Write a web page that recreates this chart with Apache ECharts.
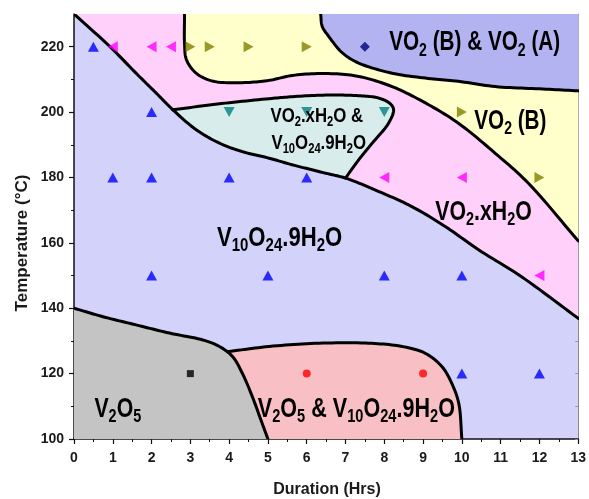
<!DOCTYPE html>
<html>
<head>
<meta charset="utf-8">
<script src="https://cdn.jsdelivr.net/npm/echarts@6.0.0/dist/echarts.min.js"></script>
<style>
html,body{margin:0;padding:0;background:#fff;}
#chart{width:589px;height:499px;}
</style>
</head>
<body>
<div id="chart"></div>
<script>
// ---------- tick labels ----------
const xTickValues = [0,1,2,3,4,5,6,7,8,9,10,11,12,13];
const yTickValues = [100,120,140,160,180,200,220];
const yMinorValues = [110,130,150,170,190,210];

// ---------- phase boundaries (Duration in h, Temperature in °C) ----------
const boundaryV10 = [[0,230],[0.92,220.1],[1.6,211.9],[2.12,205.8],[2.55,200.7],[3.15,194.6],[3.75,190.5],[4.34,187.9],[5.03,185.9],[5.62,183.9],[6.49,181.3],[7.0,179.8],[7.86,175.7],[8.71,171.1],[9.57,165.0],[10.43,157.9],[11.53,149.7],[13,136.9]];
const boundaryMix = [[2.55,200.7],[3.8,202.6],[5.03,204.1],[5.63,204.7],[6.49,205.2],[7.34,205.0],[7.85,204.3],[8.15,202.6],[8.24,200.7],[8.11,196.6],[7.69,190.5],[7.34,185.4],[7.0,179.8]];
const boundaryVO2B = [[2.85,230],[2.85,221],[2.9,216],[3.15,211.9],[3.57,209.5],[4.34,209.0],[5.03,209.7],[5.63,211.2],[6.49,211.8],[7.34,210.9],[8.2,207.8],[9.06,202.8],[9.91,196.6],[10.86,187.4],[11.71,178.3],[13,160.6]];
const boundaryVO2A = [[6.36,230],[6.4,226.2],[6.57,223.1],[6.92,218.1],[7.34,215.0],[8.2,211.9],[9.06,210.4],[9.91,209.4],[10.86,207.8],[12,207.1],[13,206.5]];
const boundaryV2O5 = [[0,140],[0.75,137.4],[1.6,134.9],[2.46,132.4],[3.32,130.3],[3.75,128.3],[4.09,125.2],[4.34,120.1],[4.6,112.9],[4.82,105.8],[5.0,100]];
const boundaryV2O5Mix = [[3.96,126.7],[5.03,128.3],[6.32,129.3],[7.6,129.3],[8.46,128.3],[9.06,126.2],[9.49,122.1],[9.74,117.0],[9.92,110.9],[10.0,100]];

// ---------- experimental points ----------
const ptsV10O24 = [[0.5,220],[2,200],[1,180],[2,180],[4,180],[6,180],[2,150],[5,150],[8,150],[10,150],[10,120],[12,120]];
const ptsVO2xH2O = [[1,220],[2,220],[2.5,220],[8,180],[10,180],[12,150]];
const ptsVO2B = [[3,220],[3.5,220],[4.5,220],[6,220],[10,200],[12,180]];
const ptsMix = [[4,200],[6,200],[8,200]];
const ptsVO2BA = [[7.5,220]];
const ptsV2O5 = [[3,120]];
const ptsV2O5Mix = [[6,120],[9,120]];

// ---------- region labels ----------
const FONT = 'Liberation Sans';
const labels = [
  {t:'{m|VO}{s|2}{m| (B) & VO}{s|2}{m| (A)}', at:[10.33,221.2], sx:0.74, small:false},
  {t:'{m|VO}{s|2}{m| (B)}', at:[11.25,197.1], sx:0.74, small:false},
  {t:'{m|VO}{s|2}{m|.xH}{s|2}{m|O &}', at:[6.26,198.8], sx:0.8, small:true},
  {t:'{m|V}{s|10}{m|O}{s|24}{m|.9H}{s|2}{m|O}', at:[6.31,190.6], sx:0.8, small:true},
  {t:'{m|VO}{s|2}{m|.xH}{s|2}{m|O}', at:[10.56,169.3], sx:0.76, small:false},
  {t:'{m|V}{s|10}{m|O}{s|24}{m|.9H}{s|2}{m|O}', at:[5.3,161.5], sx:0.79, small:false},
  {t:'{m|V}{s|2}{m|O}{s|5}', at:[1.13,109.1], sx:0.76, small:false},
  {t:'{m|V}{s|2}{m|O}{s|5}{m| & V}{s|10}{m|O}{s|24}{m|.9H}{s|2}{m|O}', at:[7.28,109.0], sx:0.77, small:false}
];
const richBig = {
  m:{fontSize:28, fontFamily:FONT, fontWeight:'bold', fill:'#000'},
  s:{fontSize:19, fontFamily:FONT, fontWeight:'bold', fill:'#000', padding:[15,0,0,0]}
};
const richSmall = {
  m:{fontSize:21, fontFamily:FONT, fontWeight:'bold', fill:'#000'},
  s:{fontSize:14, fontFamily:FONT, fontWeight:'bold', fill:'#000', padding:[12,0,0,0]}
};

// ---------- spline helper (centripetal Catmull-Rom in pixel space) ----------
function spline(api, pts, i0, i1, n) {
  const px = pts.map(p => api.coord(p));
  const m = px.length;
  if (i0 == null) i0 = 0;
  if (i1 == null) i1 = m - 1;
  n = n || 12;
  const get = i => {
    if (i < 0) return [2*px[0][0]-px[1][0], 2*px[0][1]-px[1][1]];
    if (i >= m) return [2*px[m-1][0]-px[m-2][0], 2*px[m-1][1]-px[m-2][1]];
    return px[i];
  };
  const d = (a,b) => Math.pow(Math.hypot(b[0]-a[0], b[1]-a[1]) || 1e-6, 0.5);
  const out = [px[i0].slice()];
  for (let i = i0; i < i1; i++) {
    const p0=get(i-1), p1=get(i), p2=get(i+1), p3=get(i+2);
    const t0=0, t1=t0+d(p0,p1), t2=t1+d(p1,p2), t3=t2+d(p2,p3);
    for (let k=1;k<=n;k++){
      const t = t1 + (t2-t1)*k/n;
      const lerp=(a,b,ta,tb)=>[(tb-t)/(tb-ta)*a[0]+(t-ta)/(tb-ta)*b[0],(tb-t)/(tb-ta)*a[1]+(t-ta)/(tb-ta)*b[1]];
      const A1=lerp(p0,p1,t0,t1), A2=lerp(p1,p2,t1,t2), A3=lerp(p2,p3,t2,t3);
      const B1=lerp(A1,A2,t0,t2), B2=lerp(A2,A3,t1,t3);
      out.push(lerp(B1,B2,t1,t2));
    }
  }
  return out;
}

const COLORS = {
  pink:'#ffd0fa', yellow:'#ffffcc', purple:'#b3b3f2', teal:'#d8ecec', gray:'#c4c4c4', red:'#f8c0c4', blue:'#d2d2fa'
};

function renderRegions(params, api) {
  const c = p => api.coord(p);
  const A = spline(api, boundaryV10);
  const Y = spline(api, boundaryVO2B);
  const P = spline(api, boundaryVO2A);
  const T = spline(api, boundaryMix);
  const Aseg = spline(api, boundaryV10, 4, 11).reverse();
  const G = spline(api, boundaryV2O5);
  const R = spline(api, boundaryV2O5Mix);
  const poly = (points, fill) => ({type:'polygon', shape:{points}, style:{fill, stroke:null}});
  const line = (points) => ({type:'polyline', shape:{points}, style:{fill:null, stroke:'#000', lineWidth:3, lineJoin:'round', lineCap:'round'}});
  return {
    type:'group',
    children:[
      poly(A.concat([c([13,230])]), COLORS.pink),
      poly(Y.concat([c([13,230])]), COLORS.yellow),
      poly(P.concat([c([13,230])]), COLORS.purple),
      poly(T.concat(Aseg), COLORS.teal),
      poly(R.concat([c([3.9,100])]), COLORS.red),
      poly(G.concat([c([0,100])]), COLORS.gray),
      line(A), line(T), line(Y), line(P), line(G), line(R)
    ]
  };
}

function renderLabels(params, api) {
  const L = labels[params.dataIndex];
  const p = api.coord([api.value(0), api.value(1)]);
  return {
    type:'text', x:p[0], y:p[1], scaleX:L.sx, scaleY:1,
    style:{text:L.t, rich: L.small ? richSmall : richBig, align:'center', verticalAlign:'middle'}
  };
}

const chart = echarts.init(document.getElementById('chart'), null, {renderer:'canvas'});
const axisFont = {fontFamily:FONT, fontWeight:'bold', fontSize:14, color:'#1a1a1a'};

const sc = (name, data, symbol, size, rotate, color) => ({
  type:'scatter', name, data, symbol, symbolSize:size, symbolRotate:rotate, z:5,
  itemStyle:{color}, silent:true
});

chart.setOption({
  animation:false,
  grid:{left:74, right:9, top:14, bottom:60, show:true, backgroundColor:COLORS.blue, borderWidth:0},
  xAxis:[
    {type:'value', min:0, max:13, interval:1, position:'bottom',
     axisLine:{lineStyle:{color:'#111', width:1.5}},
     axisTick:{inside:false, length:5, lineStyle:{color:'#111', width:1.2}},
     minorTick:{show:true, splitNumber:2, length:3, lineStyle:{color:'#111', width:1}},
     axisLabel:Object.assign({margin:12}, axisFont),
     splitLine:{show:false}},
    {type:'value', min:0, max:13, interval:1, position:'top',
     axisLine:{lineStyle:{color:'#8a8a8a', width:1}}, axisTick:{show:false}, axisLabel:{show:false}, splitLine:{show:false}}
  ],
  yAxis:[
    {type:'value', min:100, max:230, interval:20, position:'left',
     axisLine:{lineStyle:{color:'#111', width:1.5}},
     axisTick:{inside:false, length:5, customValues:yTickValues, lineStyle:{color:'#111', width:1.2}},
     axisLabel:Object.assign({margin:10, customValues:yTickValues}, axisFont),
     splitLine:{show:false}},
    {type:'value', min:100, max:230, interval:20, position:'left',
     axisLine:{show:false},
     axisTick:{inside:false, length:3, customValues:yMinorValues, lineStyle:{color:'#111', width:1}},
     axisLabel:{show:false}, splitLine:{show:false}},
    {type:'value', min:100, max:230, interval:20, position:'right',
     axisLine:{lineStyle:{color:'#8a8a8a', width:1}},
     axisTick:{inside:true, length:3, customValues:yMinorValues.concat(yTickValues), lineStyle:{color:'#999', width:1}},
     axisLabel:{show:false}, splitLine:{show:false}}
  ],
  graphic:[
    {type:'text', x:327, y:490, style:{text:'Duration (Hrs)', font:'bold 16px "Liberation Sans"', fill:'#1a1a1a', align:'center', verticalAlign:'middle'}},
    {type:'text', x:22, y:243, rotation:Math.PI/2, style:{text:'Temperature (°C)', font:'bold 17px "Liberation Sans"', fill:'#1a1a1a', align:'center', verticalAlign:'middle'}}
  ],
  series:[
    {type:'custom', name:'regions', data:[[0,0]], renderItem:renderRegions, z:1, silent:true, clip:true},
    sc('V10O24.9H2O', ptsV10O24, 'triangle', [11,10], 0, '#0000ff'),
    sc('VO2.xH2O', ptsVO2xH2O, 'triangle', [11,10], 90, '#ff00ff'),
    sc('VO2 (B)', ptsVO2B, 'triangle', [11,10], -90, '#808000'),
    sc('VO2.xH2O & V10O24.9H2O', ptsMix, 'triangle', [11,10], 180, '#008080'),
    sc('VO2 (B) & VO2 (A)', ptsVO2BA, 'diamond', [10,10], 0, '#000080'),
    sc('V2O5', ptsV2O5, 'rect', [7,7], 0, '#000000'),
    sc('V2O5 & V10O24.9H2O', ptsV2O5Mix, 'circle', [8,8], 0, '#ff0000'),
    {type:'custom', name:'labels', data:labels.map(l => l.at), renderItem:renderLabels, z:10, silent:true}
  ]
});
</script>
</body>
</html>
